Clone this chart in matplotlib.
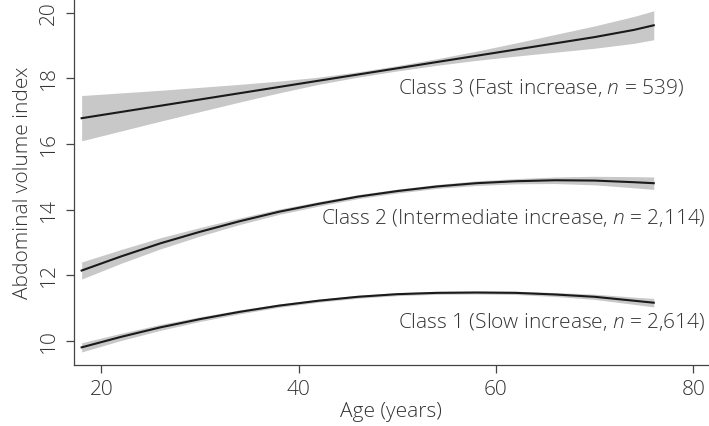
import matplotlib
matplotlib.use("Agg")
import matplotlib.pyplot as plt

ages = [18, 22, 26, 30, 34, 38, 42, 46, 50, 54, 58, 62, 66, 70, 74, 76]

class1_mean = [9.81, 10.13, 10.42, 10.67, 10.89, 11.08, 11.23, 11.35, 11.43, 11.47, 11.48, 11.47, 11.42, 11.35, 11.23, 11.17]
class1_half = [0.14, 0.11, 0.09, 0.07, 0.06, 0.05, 0.045, 0.045, 0.045, 0.045, 0.045, 0.05, 0.06, 0.08, 0.11, 0.13]

class2_mean = [12.15, 12.58, 12.98, 13.33, 13.65, 13.94, 14.18, 14.40, 14.57, 14.71, 14.81, 14.87, 14.90, 14.89, 14.84, 14.81]
class2_half = [0.26, 0.21, 0.17, 0.13, 0.10, 0.08, 0.07, 0.06, 0.06, 0.06, 0.07, 0.08, 0.10, 0.13, 0.17, 0.19]

class3_mean = [16.79, 16.98, 17.17, 17.36, 17.55, 17.74, 17.93, 18.12, 18.31, 18.50, 18.69, 18.88, 19.07, 19.26, 19.48, 19.62]
class3_half = [0.69, 0.58, 0.47, 0.37, 0.27, 0.18, 0.11, 0.08, 0.08, 0.10, 0.14, 0.20, 0.27, 0.34, 0.41, 0.44]

labels = ["Class 1 (Slow increase, $\\it{n}$ = 2,614)",
          "Class 2 (Intermediate increase, $\\it{n}$ = 2,114)",
          "Class 3 (Fast increase, $\\it{n}$ = 539)"]
label_pos = [(50.1, 10.58), (42.3, 13.75), (50.1, 17.71)]

xticks = [20, 40, 60, 80]
yticks = [10, 12, 14, 16, 18, 20]

plt.rcParams['font.family'] = ['Open Sans', 'DejaVu Sans']
plt.rcParams['font.weight'] = 'light'
plt.rcParams['mathtext.fontset'] = 'custom'
plt.rcParams['mathtext.it'] = 'Open Sans:italic:light'
plt.rcParams['mathtext.rm'] = 'Open Sans:light'

fs = 15
txt = '#333333'
fig = plt.figure(figsize=(7.09, 4.26), dpi=100)
ax = fig.add_axes([0.104, 0.143, 0.896, 0.857])

for m, h in [(class1_mean, class1_half), (class2_mean, class2_half), (class3_mean, class3_half)]:
    lo = [a - b for a, b in zip(m, h)]
    hi = [a + b for a, b in zip(m, h)]
    ax.fill_between(ages, lo, hi, color='#c8c8c8', lw=0)
    ax.plot(ages, m, color='#1a1a1a', lw=1.5)

for lab, (x, y) in zip(labels, label_pos):
    ax.text(x, y, lab, fontsize=fs, color=txt, ha='left', va='center', fontweight='light')

ax.set_xlim(17.2, 81.6)
ax.set_ylim(9.27, 20.39)
ax.set_xticks(xticks)
ax.set_yticks(yticks)
ax.set_xticklabels([str(t) for t in xticks], fontsize=fs, color=txt, fontweight='light')
ax.set_yticklabels([str(t) for t in yticks], fontsize=fs, color=txt, rotation=90, va='center', fontweight='light')
ax.tick_params(axis='both', length=6, width=0.9, color='#444444', pad=5)
for s in ['top', 'right']:
    ax.spines[s].set_visible(False)
for s in ['left', 'bottom']:
    ax.spines[s].set_color('#444444')
    ax.spines[s].set_linewidth(0.9)
ax.set_xlabel('Age (years)', fontsize=fs, color=txt, labelpad=1, fontweight='light')
ax.set_ylabel('Abdominal volume index', fontsize=fs, color=txt, labelpad=4, fontweight='light')

fig.savefig('out.png', dpi=100)
